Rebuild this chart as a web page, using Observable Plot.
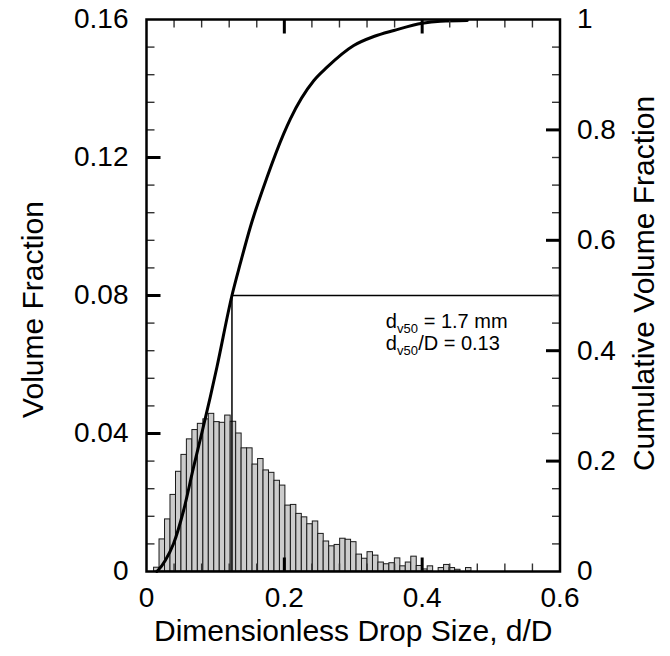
<!DOCTYPE html>
<html><head><meta charset="utf-8">
<script src="https://cdn.jsdelivr.net/npm/d3@7"></script>
<script src="https://cdn.jsdelivr.net/npm/@observablehq/plot@0.6"></script>
<style>
html,body{margin:0;padding:0;background:#fff;}
#chart{width:670px;height:656px;}
</style></head><body><div id="chart"></div>
<script>
// Histogram bins (left edges, d/D) and volume fraction per bin
const binLeft = [0.0110,0.0189,0.0269,0.0348,0.0428,0.0507,0.0586,0.0666,0.0745,0.0825,
  0.0904,0.0983,0.1063,0.1142,0.1222,0.1301,0.1380,0.1460,0.1539,0.1619,
  0.1698,0.1777,0.1857,0.1936,0.2016,0.2095,0.2174,0.2254,0.2333,0.2413,
  0.2492,0.2571,0.2651,0.2730,0.2810,0.2889,0.2968,0.3048,0.3127,0.3207,
  0.3286,0.3365,0.3445,0.3524,0.3604,0.3683,0.3762,0.3842,0.3921,0.4001,
  0.4080,0.4159,0.4239,0.4318,0.4398,0.4477,0.4556,0.4636];
const binWidth = 0.00794;
const volumeFraction = [0.0011,0.0093,0.0151,0.0222,0.0289,0.0338,0.0383,0.0410,0.0428,0.0441,
  0.0457,0.0433,0.0431,0.0452,0.0434,0.0400,0.0357,0.0357,0.0310,0.0326,
  0.0293,0.0286,0.0263,0.0249,0.0191,0.0193,0.0167,0.0157,0.0137,0.0145,
  0.0109,0.0087,0.0073,0.0077,0.0095,0.0092,0.0085,0.0049,0.0037,0.0056,
  0.0046,0.0026,0.0021,0.0024,0.0038,0.0015,0.0026,0.0043,0.0016,0.0006,
  0.0015,0,0.0010,0.0019,0.0010,0.0005,0,0.0010];

// Cumulative volume fraction curve
const cumX = [0.015,0.0174,0.0272,0.0392,0.0538,0.0683,0.0805,0.0925,0.1023,0.124,0.1361,0.1506,
  0.1749,0.199,0.2088,0.2429,0.262,0.3007,0.3298,0.3589,0.4001,0.4267,0.4655];
const cumFrac = [0,0.003,0.02,0.0502,0.1105,0.189,0.252,0.316,0.371,0.5,0.558,0.6237,
  0.7143,0.7929,0.8201,0.8895,0.9136,0.9529,0.9692,0.9801,0.9933,0.9969,0.9982];

// Median marker
const medianX = 0.124;
const medianCum = 0.5;

// Axes
const xDomain = [0, 0.6];
const yDomain = [0, 0.16];
const xTicks = [0, 0.2, 0.4, 0.6];
const xTickLabels = ["0", "0.2", "0.4", "0.6"];
const xMajorInner = [0.2, 0.4];
const xMinor = [0.04,0.08,0.12,0.16,0.24,0.28,0.32,0.36,0.44,0.48,0.52,0.56];
const yTicks = [0, 0.04, 0.08, 0.12, 0.16];
const yTickLabels = ["0", "0.04", "0.08", "0.12", "0.16"];
const yMajorInner = [0.04, 0.08, 0.12];
const yMinor = [0.008,0.016,0.024,0.032,0.048,0.056,0.064,0.072,0.088,0.096,0.104,0.112,0.128,0.136,0.144,0.152];
const cumTicks = [0, 0.2, 0.4, 0.6, 0.8, 1];
const cumTickLabels = ["0", "0.2", "0.4", "0.6", "0.8", "1"];
const cumMajorInner = [0.2, 0.4, 0.6, 0.8];
const cumMinor = [0.05,0.1,0.15,0.25,0.3,0.35,0.45,0.5,0.55,0.65,0.7,0.75,0.85,0.9,0.95];

const xTitle = "Dimensionless Drop Size, d/D";
const yTitle = "Volume Fraction";
const y2Title = "Cumulative Volume Fraction";

const S = yDomain[1]; // cumulative (0..1) mapped onto left scale

const bars = binLeft.map((x, i) => ({x1: x, x2: x + binWidth, v: volumeFraction[i]})).filter(d => d.v > 0);
const cum = cumX.map((x, i) => ({x, c: cumFrac[i]}));

const FONT = "'Liberation Sans', Arial, Helvetica, sans-serif";
const FS = 28, FT = 30;
const MAJ = 14, MIN = 8;
const W = 670, H = 656, ML = 146, MR = 110.5, MT = 19, MB = 85;

// tick glyph: a short line pointing into the frame
function tickSym(len, dir) {
  return {
    draw(ctx) {
      ctx.moveTo(0, 0);
      if (dir === "right") ctx.lineTo(len, 0);
      else if (dir === "left") ctx.lineTo(-len, 0);
      else if (dir === "up") ctx.lineTo(0, -len);
      else ctx.lineTo(0, len);
    }
  };
}
const minS = {stroke: "#333", strokeWidth: 1.4, fill: "none", r: 2};
const majS = {stroke: "black", strokeWidth: 3, fill: "none", r: 2};

const chart = Plot.plot({
  width: W, height: H,
  marginLeft: ML, marginRight: MR, marginTop: MT, marginBottom: MB,
  x: {domain: xDomain},
  y: {domain: yDomain},
  style: {fontFamily: FONT, fontSize: FS + "px", color: "black", background: "white", overflow: "visible"},
  marks: [
    Plot.rectY(bars, {x1: "x1", x2: "x2", y: "v", fill: "#cccccc", stroke: "#1a1a1a", strokeWidth: 1}),
    Plot.ruleX([medianX], {y1: 0, y2: medianCum * S, stroke: "black", strokeWidth: 1.5}),
    Plot.ruleY([medianCum * S], {x1: medianX, x2: xDomain[1], stroke: "black", strokeWidth: 1.5}),
    Plot.line(cum, {x: "x", y: d => d.c * S, curve: "monotone-x", stroke: "black", strokeWidth: 3, strokeLinejoin: "round"}),
    // inward ticks
    Plot.dot(xMinor, {x: d => d, frameAnchor: "bottom", symbol: tickSym(MIN, "up"), ...minS}),
    Plot.dot(xMajorInner, {x: d => d, frameAnchor: "bottom", symbol: tickSym(MAJ, "up"), ...majS}),
    Plot.dot(xMinor, {x: d => d, frameAnchor: "top", symbol: tickSym(MIN, "down"), ...minS}),
    Plot.dot(xMajorInner, {x: d => d, frameAnchor: "top", symbol: tickSym(MAJ, "down"), ...majS}),
    Plot.dot(yMinor, {y: d => d, frameAnchor: "left", symbol: tickSym(MIN, "right"), ...minS}),
    Plot.dot(yMajorInner, {y: d => d, frameAnchor: "left", symbol: tickSym(MAJ, "right"), ...majS}),
    Plot.dot(cumMinor, {y: c => c * S, frameAnchor: "right", symbol: tickSym(MIN, "left"), ...minS}),
    Plot.dot(cumMajorInner, {y: c => c * S, frameAnchor: "right", symbol: tickSym(MAJ, "left"), ...majS}),
    // tick labels
    Plot.axisX({ticks: xTicks, anchor: "bottom", tickSize: 0, tickPadding: 16, label: null, fontSize: FS,
      tickFormat: d => xTickLabels[xTicks.indexOf(d)]}),
    Plot.axisY({ticks: yTicks, anchor: "left", tickSize: 0, tickPadding: 18, label: null, fontSize: FS,
      tickFormat: d => yTickLabels[yTicks.indexOf(d)]}),
    Plot.axisY({ticks: cumTicks.map(c => c * S), anchor: "right", tickSize: 0, tickPadding: 17, label: null, fontSize: FS,
      tickFormat: (d) => cumTickLabels[cumTicks.findIndex(c => Math.abs(c * S - d) < 1e-9)]}),
    // axis titles
    Plot.text([xTitle], {frameAnchor: "bottom", dy: 69, textAnchor: "middle", lineAnchor: "bottom", fontSize: FT, fill: "black"}),
    Plot.text([yTitle], {frameAnchor: "left", dx: -113, dy: 14, textAnchor: "middle", lineAnchor: "middle", rotate: -90, fontSize: FT, fill: "black"}),
    Plot.text([y2Title], {frameAnchor: "right", dx: 84, dy: -12, textAnchor: "middle", lineAnchor: "middle", rotate: -90, fontSize: FT, fill: "black"}),
    // annotation
    Plot.text(["d"], {x: 0.347, y: 0.0707, textAnchor: "start", lineAnchor: "bottom", fontSize: 20, fill: "black"}),
    Plot.text(["v50"], {x: 0.347, y: 0.0707, dx: 11.3, dy: 5, textAnchor: "start", lineAnchor: "bottom", fontSize: 13, fill: "black"}),
    Plot.text(["= 1.7 mm"], {x: 0.347, y: 0.0707, dx: 38, textAnchor: "start", lineAnchor: "bottom", fontSize: 20, fill: "black"}),
    Plot.text(["d"], {x: 0.347, y: 0.0643, textAnchor: "start", lineAnchor: "bottom", fontSize: 20, fill: "black"}),
    Plot.text(["v50"], {x: 0.347, y: 0.0643, dx: 11.3, dy: 5, textAnchor: "start", lineAnchor: "bottom", fontSize: 13, fill: "black"}),
    Plot.text(["/D = 0.13"], {x: 0.347, y: 0.0643, dx: 32.5, textAnchor: "start", lineAnchor: "bottom", fontSize: 20, fill: "black"}),
    Plot.frame({stroke: "black", strokeWidth: 2.5})
  ]
});
document.getElementById("chart").appendChild(chart);
</script>
</body></html>
